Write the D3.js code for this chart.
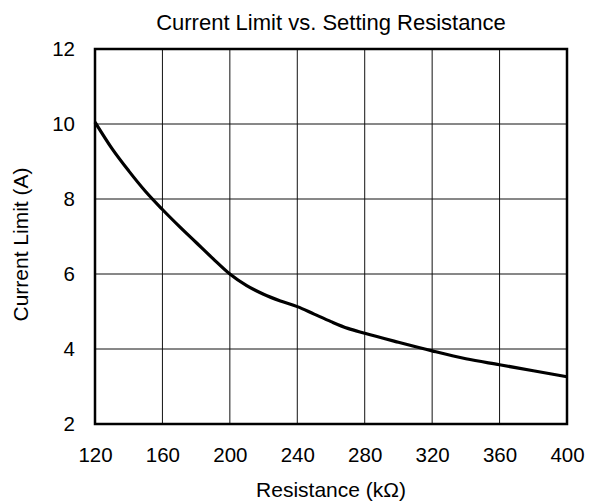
<!DOCTYPE html>
<html>
<head>
<meta charset="utf-8">
<script src="https://cdn.jsdelivr.net/npm/d3@7"></script>
<style>
  body { margin: 0; background: #fff; }
  text { font-family: "Liberation Sans", Arial, sans-serif; fill: #000; }
</style>
</head>
<body>
<script>
var svgWidth = 589;
var svgHeight = 504;

var margin = { top: 49, right: 22, bottom: 80, left: 95 };
var width = svgWidth - margin.left - margin.right;
var height = svgHeight - margin.top - margin.bottom;

// curve
var resistance = [120, 130, 140, 150, 160, 170, 180, 190, 200, 210, 220, 230, 240, 250, 260, 270, 280, 300, 320, 340, 360, 380, 400];
var currentLimit = [10.05, 9.35, 8.75, 8.2, 7.72, 7.27, 6.84, 6.41, 6.0, 5.69, 5.46, 5.28, 5.13, 4.93, 4.73, 4.55, 4.42, 4.18, 3.95, 3.74, 3.58, 3.42, 3.26];
var xTicks = [120, 160, 200, 240, 280, 320, 360, 400];
var yTicks = [2, 4, 6, 8, 10, 12];

var svg = d3.select("body")
  .append("svg")
  .attr("width", svgWidth)
  .attr("height", svgHeight);

var chartGroup = svg.append("g")
  .attr("transform", `translate(${margin.left}, ${margin.top})`);

var xScale = d3.scaleLinear().domain([120, 400]).range([0, width]);
var yScale = d3.scaleLinear().domain([2, 12]).range([height, 0]);

// grid
chartGroup.append("g")
  .selectAll("line")
  .data(xTicks.slice(1, -1))
  .enter()
  .append("line")
  .attr("x1", d => xScale(d)).attr("x2", d => xScale(d))
  .attr("y1", 0).attr("y2", height)
  .attr("stroke", "#111").attr("stroke-width", 1);

chartGroup.append("g")
  .selectAll("line")
  .data(yTicks.slice(1, -1))
  .enter()
  .append("line")
  .attr("x1", 0).attr("x2", width)
  .attr("y1", d => yScale(d)).attr("y2", d => yScale(d))
  .attr("stroke", "#111").attr("stroke-width", 1);

// axes (labels only)
var bottomAxis = d3.axisBottom(xScale).tickValues(xTicks).tickSize(0).tickPadding(23);
var leftAxis = d3.axisLeft(yScale).tickValues(yTicks).tickSize(0).tickPadding(20);

var xg = chartGroup.append("g")
  .attr("transform", `translate(0, ${height})`)
  .call(bottomAxis);
var yg = chartGroup.append("g").call(leftAxis);

[xg, yg].forEach(function(g) {
  g.select(".domain").remove();
  g.selectAll("text")
    .attr("font-family", "Liberation Sans, Arial, sans-serif")
    .attr("font-size", 20.5)
    .attr("fill", "#000");
});

// frame
chartGroup.append("rect")
  .attr("x", 0).attr("y", 0)
  .attr("width", width).attr("height", height)
  .attr("fill", "none")
  .attr("stroke", "#000")
  .attr("stroke-width", 2.5);

// curve
var pts = resistance.map((r, i) => [r, currentLimit[i]]);
var line = d3.line()
  .x(d => xScale(d[0]))
  .y(d => yScale(d[1]))
  .curve(d3.curveMonotoneX);

chartGroup.append("path")
  .datum(pts)
  .attr("d", line)
  .attr("fill", "none")
  .attr("stroke", "#000")
  .attr("stroke-width", 3.2)
  .attr("stroke-linejoin", "round");

// titles
svg.append("text")
  .attr("x", margin.left + width / 2)
  .attr("y", 30)
  .attr("text-anchor", "middle")
  .attr("font-size", 22)
  .text("Current Limit vs. Setting Resistance");

svg.append("text")
  .attr("x", margin.left + width / 2)
  .attr("y", 497)
  .attr("text-anchor", "middle")
  .attr("font-size", 21)
  .text("Resistance (kΩ)");

svg.append("text")
  .attr("transform", "rotate(-90)")
  .attr("x", -(margin.top + height / 2 + 8))
  .attr("y", 28)
  .attr("text-anchor", "middle")
  .attr("font-size", 21)
  .text("Current Limit (A)");
</script>
</body>
</html>
